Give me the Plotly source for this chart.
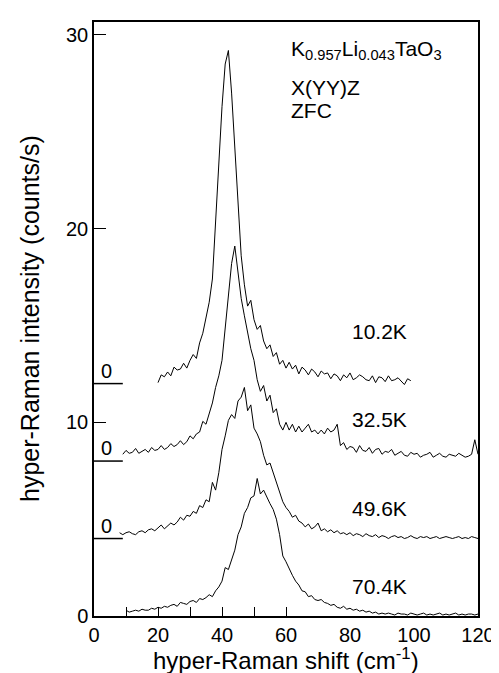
import numpy as np
import plotly.graph_objects as go

# ---------------- data ----------------
temps = ["10.2K", "32.5K", "49.6K", "70.4K"]
offsets = [12, 8, 4, 0]
x_start = [20, 9, 8, 10]

y_10K = [12.05, 12.45, 12.35, 12.6, 12.4, 12.85, 12.7, 12.75, 13.05, 12.8,
         13.2, 13.5, 13.3, 14.1, 14.6, 15.4, 16.2, 17.4,
         20.4, 22.8, 26.3, 28.5, 29.2, 27.0, 24.0, 21.0, 18.6, 17.1,
         16.0, 16.3, 15.3, 14.8, 15.0, 14.2, 13.8, 14.0, 13.4, 13.6, 13.0, 13.2,
         12.8, 13.1, 12.75, 12.95, 12.5, 12.85, 12.7, 12.45, 12.75, 12.6,
         12.35, 12.65, 12.5, 12.55, 12.25, 12.5, 12.4, 12.15, 12.45, 12.3,
         12.55, 12.2, 12.3, 12.45, 12.35, 12.2, 12.15, 12.4, 12.05, 12.35,
         12.3, 12.1, 12.4, 12.15, 12.2, 12.3, 12.1, 11.95, 12.25, 12.15]

y_32K = [8.35, 8.55, 8.4, 8.45, 8.65, 8.4, 8.5, 8.6, 8.45, 8.7,
         8.55, 8.6, 8.8, 8.6, 8.7, 8.9, 8.75, 8.85, 9.05, 8.85,
         9.0, 9.3, 9.15, 9.4, 9.5,
         10.05, 9.9, 10.5, 11.0, 11.8, 12.4, 13.2, 14.8, 16.6, 18.2,
         19.1, 17.8, 16.4, 15.5, 14.6, 13.8, 13.2, 12.2, 11.6, 11.9,
         11.1, 11.4, 10.5, 10.7, 9.9, 9.6, 10.0, 9.6, 9.9, 9.5,
         9.8, 9.5, 9.7, 9.9, 9.5, 9.6, 9.4, 9.6, 9.4, 9.7,
         9.5, 9.6, 9.9,
         8.8, 8.95, 8.6, 8.75, 8.7, 8.45, 8.8, 8.55, 8.5, 8.7,
         8.4, 8.6, 8.65, 8.35, 8.5, 8.45, 8.6, 8.3, 8.4, 8.5,
         8.3, 8.25, 8.45, 8.35, 8.4, 8.2, 8.3, 8.35, 8.45, 8.2,
         8.3, 8.4, 8.25, 8.2, 8.35, 8.3, 8.25, 8.4, 8.3, 8.2,
         8.25, 8.35, 9.1, 8.35]

y_49K = [4.3, 4.2, 4.3, 4.35, 4.25, 4.2, 4.35, 4.4, 4.3, 4.45,
         4.5, 4.4, 4.55, 4.7, 4.5, 4.65, 4.8, 4.7, 4.85, 5.1,
         4.95, 5.2, 5.15, 5.4, 5.3, 5.7, 5.6, 6.0, 5.9, 6.9,
         6.5, 7.4, 8.6, 9.3, 10.1, 10.4, 10.2, 11.1, 11.3, 11.8,
         10.6, 10.9, 9.7, 9.4, 9.0, 8.3, 7.8, 7.9, 7.4, 6.9,
         6.5, 5.9, 5.6, 5.4, 5.1, 5.2, 4.9, 4.8, 4.6, 4.75,
         4.5, 4.6, 4.8,
         4.4, 4.5, 4.35, 4.45, 4.3, 4.4, 4.25, 4.3, 4.2, 4.3,
         4.15, 4.25, 4.2, 4.1, 4.25, 4.15, 4.1, 4.2, 4.05, 4.15,
         4.1, 4.0, 4.1, 4.15, 4.05, 4.1, 4.0, 4.05, 4.15, 4.05,
         4.0, 4.1, 4.05, 4.1, 4.0, 4.05, 4.1, 4.0, 4.05, 4.1,
         4.05, 4.0, 4.05, 4.1, 4.0, 4.05, 4.0, 4.1, 4.05, 4.0]

y_70K = [0.3, 0.2, 0.25, 0.3, 0.25, 0.35, 0.3, 0.3, 0.4, 0.35,
         0.45, 0.4, 0.5, 0.45, 0.55, 0.6, 0.5, 0.7, 0.65, 0.6,
         0.75, 0.8, 0.7, 0.9, 0.85, 0.95, 1.1, 1.0,
         1.3, 1.5, 1.8, 2.5, 2.4, 2.9, 3.4, 4.2, 4.6, 5.3,
         5.6, 6.1, 6.2, 7.1, 6.3, 6.5, 6.1, 5.8, 5.5, 5.0,
         4.2, 3.1, 2.8, 2.4, 2.1, 1.8, 1.6, 1.3, 1.25, 1.0,
         1.05, 0.85, 0.8,
         0.85, 0.7, 0.65, 0.55, 0.6, 0.45, 0.4, 0.5, 0.35, 0.4,
         0.3, 0.35, 0.25, 0.3, 0.2, 0.25, 0.15, 0.2, 0.1, 0.15,
         0.1, 0.15, 0.1, 0.05, 0.15, 0.1, 0.1, 0.05, 0.15, 0.1,
         0.05, 0.1, 0.15, 0.05, 0.1, 0.05, 0.1, 0.15, 0.05, 0.1,
         0.05, 0.1, 0.15, 0.05, 0.1, 0.05, 0.1, 0.1, 0.05, 0.1]

series = [y_10K, y_32K, y_49K, y_70K]

label_x = [89.1, 89.1, 89.1, 89.1]
label_y = [14.7, 10.17, 5.54, 1.52]

x_ticks = [0, 20, 40, 60, 80, 100, 120]
x_minor_ticks = [10, 20, 30, 40, 50, 60]
y_ticks = [0, 10, 20, 30]

title_lines = ["K<sub>0.957</sub>Li<sub>0.043</sub>TaO<sub>3</sub>", "X(YY)Z", "ZFC"]
title_y = [29.2, 27.3, 26.1]

FONT = "Liberation Sans, Arial, Helvetica, sans-serif"

fig = go.Figure()
for ys, xs0 in zip(series, x_start):
    xs = xs0 + np.arange(len(ys))
    fig.add_trace(go.Scatter(x=xs, y=ys, mode="lines",
                             line=dict(color="black", width=1),
                             showlegend=False, hoverinfo="skip"))

# dummy trace for overlay axis carrying the inner minor ticks
fig.add_trace(go.Scatter(x=[0, 120], y=[0, 0], xaxis="x2", mode="lines",
                         line=dict(width=0), showlegend=False, hoverinfo="skip"))

annotations = []
for t, lx, ly in zip(temps, label_x, label_y):
    annotations.append(dict(x=lx, y=ly, xref="x", yref="y", text=t, showarrow=False,
                            font=dict(size=21, color="black", family=FONT),
                            xanchor="center", yanchor="middle"))
shapes = []
for off in offsets[:3]:
    shapes.append(dict(type="line", xref="x", yref="y", x0=0, x1=9, y0=off, y1=off,
                       line=dict(color="black", width=1.5)))
    annotations.append(dict(x=4, y=off, xref="x", yref="y", text="0", showarrow=False,
                            font=dict(size=20, color="black", family=FONT),
                            xanchor="center", yanchor="bottom"))
for line, ty in zip(title_lines, title_y):
    annotations.append(dict(x=60.9, y=ty, xref="x", yref="y", text=line, showarrow=False,
                            font=dict(size=21, color="black", family=FONT),
                            xanchor="left", yanchor="middle"))

annotations.append(dict(x=0.5, y=0, xref="paper", yref="paper",
                        text="hyper-Raman shift (cm<sup>-1</sup>)", showarrow=False,
                        font=dict(size=24, color="black", family=FONT),
                        xanchor="center", yanchor="middle", yshift=-43))
annotations.append(dict(x=0, y=0.5, xref="paper", yref="paper",
                        text="hyper-Raman intensity (counts/s)", showarrow=False,
                        textangle=-90,
                        font=dict(size=25, color="black", family=FONT),
                        xanchor="center", yanchor="middle", xshift=-64))

fig.update_layout(
    width=499, height=673,
    margin=dict(l=86, r=24, t=12, b=65),
    paper_bgcolor="white", plot_bgcolor="white",
    font=dict(family=FONT, color="black"),
    xaxis=dict(range=[0, 120], tickvals=x_ticks, ticks="", showgrid=False,
               zeroline=False, showline=True, mirror=True, linecolor="black",
               linewidth=1.5, tickfont=dict(size=20, color="black")),
    xaxis2=dict(range=[0, 120], overlaying="x", side="bottom", anchor="y",
                tickvals=x_minor_ticks, ticks="inside", ticklen=9, tickwidth=1.2,
                tickcolor="black", showticklabels=False, showgrid=False,
                zeroline=False, showline=False),
    yaxis=dict(range=[0, 30.67], tickvals=y_ticks, ticks="inside", ticklen=12,
               tickwidth=1.2, tickcolor="black", showgrid=False, zeroline=False,
               showline=True, mirror=True, linecolor="black", linewidth=1.5,
               tickfont=dict(size=20, color="black")),
    annotations=annotations,
    shapes=shapes,
)

fig.write_html("out.html")
